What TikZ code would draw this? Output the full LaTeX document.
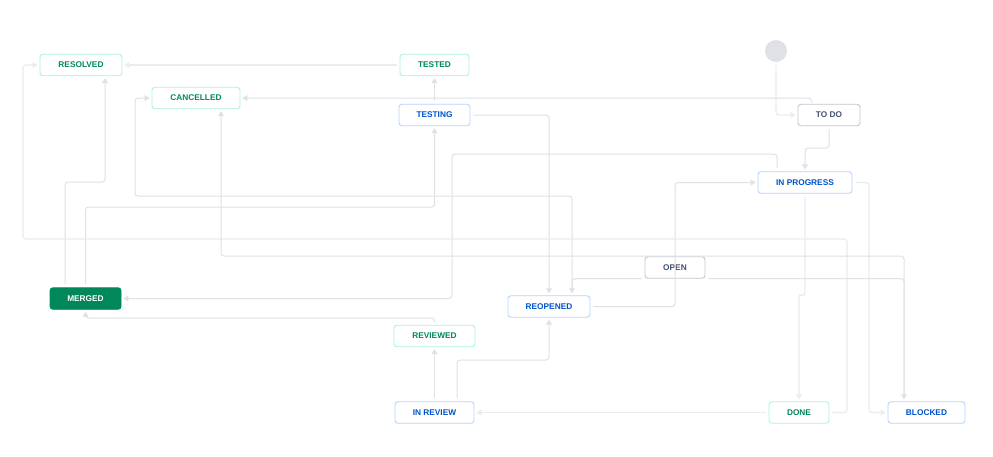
\documentclass[tikz,border=0pt]{standalone}
\usepackage{fontspec}
\setmainfont{Liberation Sans}
\usetikzlibrary{calc,arrows.meta}
\definecolor{jblue}{HTML}{0052CC}
\definecolor{jbluebd}{HTML}{B3D4FF}
\definecolor{jgreen}{HTML}{00875A}
\definecolor{jgreenbd}{HTML}{ABF5D1}
\definecolor{jgray}{HTML}{42526E}
\definecolor{jgraybd}{HTML}{C1C7D0}
\definecolor{jline}{HTML}{DFE1E6}
\definecolor{jlinel}{HTML}{EBECF0}
\begin{document}
\begin{tikzpicture}[x=1pt,y=-1pt,
  st/.style={rectangle,rounded corners=3pt,draw,line width=0.9pt,fill=white,
    minimum height=21.5pt,inner sep=0pt,font=\fontsize{8.3}{10}\selectfont\bfseries},
  bluest/.style={st,draw=jbluebd,text=jblue},
  greenst/.style={st,draw=jgreenbd,text=jgreen},
  grayst/.style={st,draw=jgraybd,text=jgray},
  mergedst/.style={st,draw=jgreen,fill=jgreen,text=white},
  conn/.style={draw=jline,line width=1pt,rounded corners=3pt,
    -{Triangle[length=5pt,width=6pt]},shorten >=2pt,shorten <=3pt},
  connl/.style={conn,draw=jlinel,line width=1.3pt},
]
\fill[white] (0,0) rectangle (993,456);
\useasboundingbox (0,0) rectangle (993,456);

% nodes
\node[circle,fill=jline,minimum size=22pt,inner sep=0pt] (start) at (776,51) {};
\node[greenst,minimum width=82pt] (resolved) at (81,65) {RESOLVED};
\node[greenst,minimum width=69pt] (tested) at (434.5,65) {TESTED};
\node[greenst,minimum width=88pt] (cancelled) at (196,98) {CANCELLED};
\node[bluest,minimum width=71pt] (testing) at (434.5,115) {TESTING};
\node[grayst,minimum width=62pt] (todo) at (829,115) {TO DO};
\node[bluest,minimum width=94pt] (inprogress) at (805,182.5) {IN PROGRESS};
\node[grayst,minimum width=60pt] (open) at (675,267.5) {OPEN};
\node[mergedst,minimum width=71pt] (merged) at (85.5,298.5) {MERGED};
\node[bluest,minimum width=82pt] (reopened) at (549,306.5) {REOPENED};
\node[greenst,minimum width=81pt] (reviewed) at (434.5,336) {REVIEWED};
\node[bluest,minimum width=79pt] (inreview) at (434.5,412.5) {IN REVIEW};
\node[greenst,minimum width=60pt] (done) at (799,412.5) {DONE};
\node[bluest,minimum width=77pt] (blocked) at (926.5,412.5) {BLOCKED};

% connectors
\draw[connl] (start.south) |- (todo.west);
\draw[connl] (tested.west) -- (resolved.east);
\draw[conn] (testing.north) -- (tested.south);
\draw[conn] ($(todo.north west)+(14,0)$) |- (cancelled.east);
\draw[conn] (testing.east) -| (reopened.north);
\draw[conn] ($(reopened.north)+(23,0)$) |- (135,196) |- (cancelled.west);
\draw[conn] ($(merged.north)+(-20.5,0)$) |- (105,182) -- ($(resolved.south)+(24,0)$);
\draw[conn] (merged.north) |- (300,207) -| (testing.south);
\draw[conn] ($(inprogress.north)+(-28,0)$) |- (452,154) |- (merged.east);
\draw[conn] (todo.south) -- ++(0,22) -| (inprogress.north);
\draw[conn] (reopened.east) -- (675,306.5) |- (inprogress.west);
\draw[connl] (inprogress.south) |- (802,295) -| (done.north);
\draw[connl] (inprogress.east) -- (869,182.5) |- (blocked.west);
\draw[connl] (done.east) -- (847,412.5) |- (23,239) |- (resolved.west);
\draw[connl] (done.west) -- (inreview.east);
\draw[conn] (inreview.north) -- (reviewed.south);
\draw[conn] ($(inreview.north)+(22.5,0)$) |- (500,360) -| (reopened.south);
\draw[conn] (reviewed.north) |- (200,318) -| (merged.south);
\draw[conn] ($(blocked.north)+(-22.5,0)$) |- (500,256) -| ($(cancelled.south)+(25,0)$);
\draw[conn] (open.south east) -| ($(blocked.north)+(-22.5,0)$);
\draw[conn] (open.south west) -| ($(reopened.north)+(23,0)$);
\end{tikzpicture}
\end{document}
